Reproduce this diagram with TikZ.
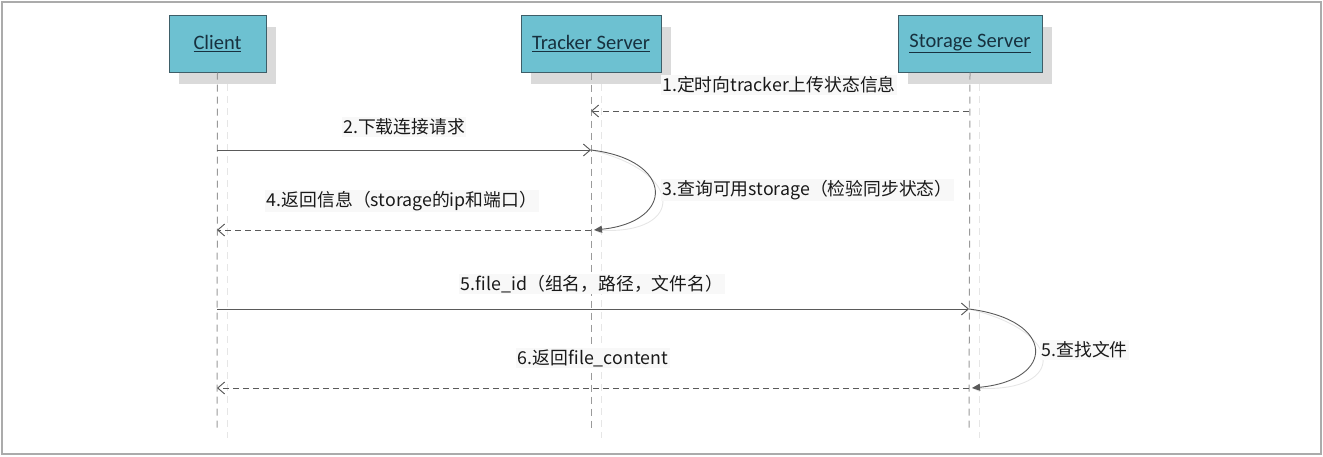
\documentclass[tikz,border=0pt]{standalone}
\usepackage{fontspec}
\setmainfont{Carlito}
\newfontfamily\cjk{Noto Sans CJK SC}
\usetikzlibrary{arrows.meta,shadows}
\definecolor{boxfill}{HTML}{6DC1D1}
\definecolor{boxline}{HTML}{3E5E68}
\definecolor{boxtext}{HTML}{17313F}
\definecolor{shadowc}{HTML}{DADADA}
\definecolor{ghost}{HTML}{E6E6E6}
\definecolor{msgc}{HTML}{5A5A5A}
\definecolor{lifec}{HTML}{9A9A9A}
\definecolor{framec}{HTML}{ABABAB}
\definecolor{lblbg}{HTML}{F8F8F8}
\begin{document}
\begin{tikzpicture}[x=1pt,y=-1pt,
  actor/.style={draw=boxline,line width=1pt,fill=boxfill,minimum height=57pt,
    text=boxtext,font=\fontsize{20.5}{24}\selectfont,inner sep=0pt,
    drop shadow={shadow xshift=10pt,shadow yshift=-12pt,fill=shadowc,opacity=1}},
  life/.style={draw=lifec,line width=1pt,dash pattern=on 7pt off 5pt},
  ghostlife/.style={draw=ghost,line width=1pt,dash pattern=on 7pt off 5pt},
  openhead/.style={-{Straight Barb[length=7pt,width=12pt]}},
  msg/.style={draw=msgc,line width=0.9pt,openhead},
  ret/.style={draw=msgc,line width=0.9pt,dash pattern=on 6pt off 4pt,openhead},
  selfc/.style={draw=msgc,line width=0.9pt,-{Triangle[length=8pt,width=7pt]}},
  ghostmsg/.style={draw=ghost,line width=0.9pt,openhead},
  ghostret/.style={draw=ghost,line width=0.9pt,dash pattern=on 6pt off 4pt,openhead},
  ghostself/.style={draw=ghost,line width=0.9pt,-{Triangle[length=8pt,width=7pt]}},
  lbl/.style={font=\cjk\fontsize{17.8}{21}\selectfont,text=black!90,fill=lblbg,inner sep=1.5pt}]
\useasboundingbox (0,0) rectangle (1323,456);
\draw[framec,line width=1.5pt] (2,2) rectangle (1321,454);

% actors
\node[actor,minimum width=97pt] (client) at (217.5,43.5) {\underline{Client}};
\node[actor,minimum width=140pt] (tracker) at (591,43.5) {\underline{Tracker Server}};
\node[actor,minimum width=144pt] (storage) at (970,43.5) {\underline{Storage Server}};

% lifeline ends
\coordinate (clEnd) at (217,428);
\coordinate (trEnd) at (591,428);
\coordinate (stEnd) at (969,428);
\coordinate (clTop) at (217,72);
\coordinate (trTop) at (591,72);
\coordinate (stTop) at (969,72);

% ghost lifelines
\draw[ghostlife] ([shift={(10,12)}]clTop) -- ([shift={(10,10)}]clEnd);
\draw[ghostlife] ([shift={(10,12)}]trTop) -- ([shift={(10,10)}]trEnd);
\draw[ghostlife] ([shift={(10,12)}]stTop) -- ([shift={(10,10)}]stEnd);

% message points
\coordinate (t1) at (591,111); \coordinate (s1) at (969,111);
\coordinate (c2) at (217,150); \coordinate (t2) at (591,150);
\coordinate (t3) at (594,230);
\coordinate (c4) at (217,230); \coordinate (t4) at (591,230);
\coordinate (c5) at (217,309); \coordinate (s5) at (969,309);
\coordinate (s5b) at (972,388);
\coordinate (c6) at (217,388); \coordinate (s6) at (969,388);

% ghost messages
\begin{scope}[shift={(10,12)}]
\draw[ghostret] (s1) -- (t1);
\draw[ghostmsg] (c2) -- (t2);
\draw[ghostself] (t2) .. controls (675,160) and (675,222) .. (t3);
\draw[ghostret] (t4) -- (c4);
\draw[ghostmsg] (c5) -- (s5);
\draw[ghostself] (s5) .. controls (1056,320) and (1056,380) .. (s5b);
\draw[ghostret] (s6) -- (c6);
\end{scope}

% lifelines
\draw[life] (client.south) -- (clEnd);
\draw[life] (tracker.south) -- (trEnd);
\draw[life] (storage.south) -- (stEnd);

% messages
\draw[ret] (s1) -- (t1);
\draw[msg] (c2) -- (t2);
\draw[selfc] (t2) .. controls (675,160) and (675,222) .. (t3);
\draw[ret] (t4) -- (c4);
\draw[msg] (c5) -- (s5);
\draw[selfc] (s5) .. controls (1056,320) and (1056,380) .. (s5b);
\draw[ret] (s6) -- (c6);

% labels
\node[lbl] (l1) at (779,85) {1.定时向tracker上传状态信息};
\node[lbl] (l2) at (404,127) {2.下载连接请求};
\node[lbl,anchor=west] (l3) at (661,190) {3.查询可用storage（检验同步状态）};
\node[lbl] (l4) at (402,201) {4.返回信息（storage的ip和端口）};
\node[lbl] (l5) at (592,284) {5.file\_id（组名，路径，文件名）};
\node[lbl,anchor=west] (l5b) at (1040,350) {5.查找文件};
\node[lbl] (l6) at (593,358) {6.返回file\_content};
\end{tikzpicture}
\end{document}
